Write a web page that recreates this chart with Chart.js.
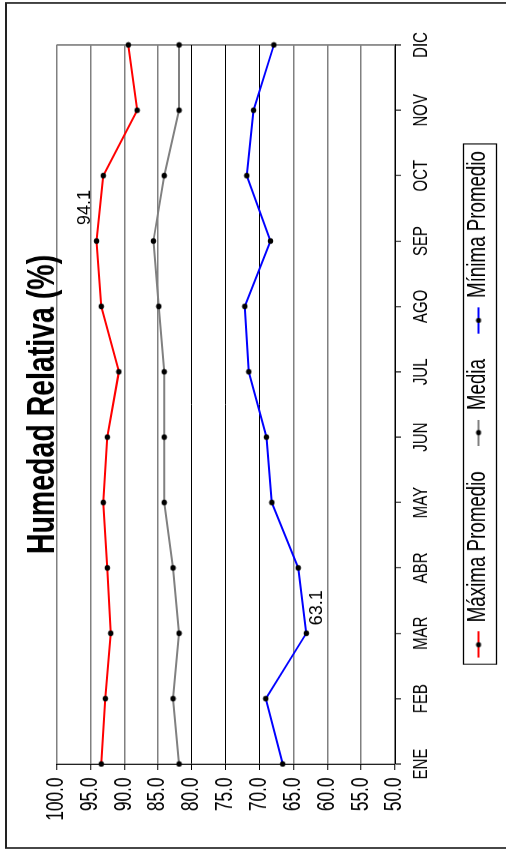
<!DOCTYPE html>
<html>
<head>
<meta charset="utf-8">
<script src="https://cdn.jsdelivr.net/npm/chart.js@4"></script>
<style>
html, body { margin: 0; padding: 0; background: #fff; width: 506px; height: 851px; overflow: hidden; }
/* el grafico se dibuja horizontal, angosto (letra estrecha) y se gira 90 grados */
#marco { position: absolute; left: 0; top: 0; width: 1135px; height: 506px; transform-origin: 0 0;
         transform: translate(0, 851px) rotate(-90deg) scale(0.7498, 1); }
</style>
</head>
<body>
<div id="marco"><canvas id="chartHumedad" width="1135" height="506"></canvas></div>
<script>
const meses  = ['ENE','FEB','MAR','ABR','MAY','JUN','JUL','AGO','SEP','OCT','NOV','DIC'];
const maxima = [93.4, 92.8, 92.0, 92.5, 93.1, 92.5, 90.8, 93.4, 94.1, 93.1, 88.1, 89.4];
const media  = [81.9, 82.8, 81.9, 82.8, 84.1, 84.1, 84.1, 84.9, 85.7, 84.1, 81.9, 81.9];
const minima = [66.6, 69.1, 63.1, 64.3, 68.2, 69.0, 71.6, 72.2, 68.4, 71.9, 70.9, 67.9];
const ejeMin = 50, ejeMax = 100, ejePaso = 5;
const lineasNegras = [70, 75, 80];

// etiquetas de valor: serie, mes, lado
const etiquetas = [
    { serie: 0, mes: 8, lado: 'arriba' },
    { serie: 2, mes: 2, lado: 'abajo' },
];

const K = 0.7498; // compresion horizontal del canvas
const FUENTE = "'Liberation Sans', Arial, sans-serif";
Chart.defaults.font.family = FUENTE;
Chart.defaults.color = '#000';

function simbolo(color) {
    const c = document.createElement('canvas');
    c.width = 35; c.height = 10;
    const g = c.getContext('2d');
    g.strokeStyle = color; g.lineWidth = 2;
    g.beginPath(); g.moveTo(0, 5); g.lineTo(35, 5); g.stroke();
    g.fillStyle = '#000';
    g.beginPath(); g.ellipse(17.5, 5, 2.6 / K, 2.6, 0, 0, Math.PI * 2); g.fill();
    return c;
}
function marcador() {
    const c = document.createElement('canvas');
    c.width = 9; c.height = 7;
    const g = c.getContext('2d');
    g.fillStyle = '#000';
    g.beginPath(); g.ellipse(4.5, 3.5, 2.8 / K, 2.8, 0, 0, Math.PI * 2); g.fill();
    return c;
}
const colores = ['#ff0000', '#808080', '#0000ff'];
const simbolos = colores.map(simbolo);
const punto = marcador();

const marcoPlugin = {
    id: 'marco',
    beforeDraw(chart) {
        const ctx = chart.ctx;
        ctx.save();
        ctx.fillStyle = '#fff';
        ctx.fillRect(0, 0, chart.width, chart.height);
        ctx.strokeStyle = '#222';
        ctx.lineWidth = 2;
        ctx.strokeRect(4, 6, 1127, 510);
        ctx.restore();
    },
    afterDraw(chart) {
        const cajas = chart.legend.legendHitBoxes;
        if (!cajas || !cajas.length) return;
        const izq = Math.min(...cajas.map(b => b.left)) - 9;
        const der = Math.max(...cajas.map(b => b.left + b.width)) + 9;
        const arr = cajas[0].top - 3;
        const aba = cajas[0].top + cajas[0].height + 5;
        const ctx = chart.ctx;
        ctx.save();
        ctx.strokeStyle = '#000';
        ctx.lineWidth = 1.3;
        ctx.strokeRect(Math.round(izq), Math.round(arr) + 0.5, Math.round(der - izq), Math.round(aba - arr));
        ctx.restore();
    }
};

// las etiquetas de valor no van estrechas
const etiquetasPlugin = {
    id: 'etiquetas',
    afterDatasetsDraw(chart) {
        const ctx = chart.ctx;
        etiquetas.forEach(e => {
            const pt = chart.getDatasetMeta(e.serie).data[e.mes];
            const texto = chart.data.datasets[e.serie].data[e.mes].toFixed(1);
            ctx.save();
            ctx.translate(pt.x, pt.y);
            ctx.scale(1 / K, 1);
            ctx.font = '18px ' + FUENTE;
            ctx.fillStyle = '#000';
            ctx.textAlign = 'left';
            ctx.textBaseline = 'alphabetic';
            if (e.lado === 'arriba') ctx.fillText(texto, 16, -7);
            else ctx.fillText(texto, 8, 16);
            ctx.restore();
        });
    }
};

function serie(label, data, color) {
    return {
        label, data,
        borderColor: color,
        backgroundColor: color,
        borderWidth: 2,
        tension: 0,
        pointStyle: punto,
        pointRadius: 3,
    };
}

new Chart(document.getElementById('chartHumedad'), {
    type: 'line',
    data: {
        labels: meses,
        datasets: [
            serie('Máxima Promedio', maxima, colores[0]),
            serie('Media', media, colores[1]),
            serie('Mínima Promedio', minima, colores[2]),
        ]
    },
    plugins: [marcoPlugin, etiquetasPlugin],
    options: {
        responsive: false,
        animation: false,
        devicePixelRatio: 1,
        layout: { padding: { top: 0, left: 0, right: 60, bottom: 5 } },
        plugins: {
            tooltip: { enabled: false },
            title: {
                display: true,
                fullSize: false,
                text: 'Humedad Relativa (%)',
                color: '#000',
                font: { size: 38, weight: 'bold', lineHeight: 0.7 },
                padding: { top: 30, bottom: 0 }
            },
            legend: {
                position: 'bottom',
                fullSize: false,
                labels: {
                    color: '#000',
                    font: { size: 25 },
                    usePointStyle: true,
                    pointStyleWidth: 35,
                    padding: 34,
                    generateLabels: chart => Chart.defaults.plugins.legend.labels.generateLabels(chart)
                        .map((it, i) => ({ ...it, pointStyle: simbolos[i] }))
                }
            }
        },
        scales: {
            x: {
                offset: false,
                afterFit: s => { s.height = 37; },
                grid: {
                    color: c => c.index === meses.length - 1 ? '#808080' : 'transparent',
                    lineWidth: 2,
                    tickColor: '#000',
                    tickWidth: 1.34,
                    tickLength: 6,
                },
                border: { color: '#000', width: 1 },
                ticks: { autoSkip: false, maxRotation: 0, padding: 8, font: { size: 20 }, color: '#000' }
            },
            y: {
                min: ejeMin, max: ejeMax,
                afterFit: s => { s.width = 116; },
                grid: {
                    color: c => lineasNegras.includes(c.tick && c.tick.value) ? '#000' : '#808080',
                    lineWidth: c => lineasNegras.includes(c.tick && c.tick.value) ? 1 : 1.5,
                    tickColor: '#000',
                    tickWidth: 1,
                    tickLength: 8,
                },
                border: { color: '#000', width: 1.34 },
                ticks: {
                    stepSize: ejePaso,
                    padding: 10,
                    font: { size: 23 },
                    color: '#000',
                    callback: v => Number(v).toFixed(1)
                }
            }
        }
    }
});
</script>
</body>
</html>
